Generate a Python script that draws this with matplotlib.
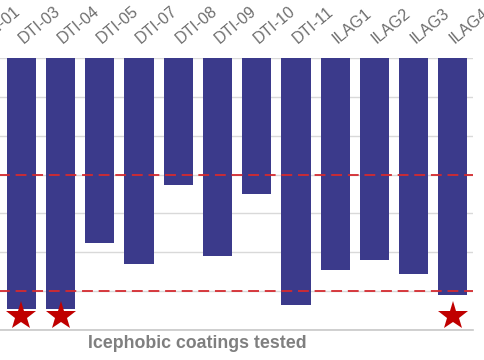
import matplotlib
matplotlib.use('Agg')
import matplotlib.pyplot as plt
from matplotlib.transforms import ScaledTranslation

coatings = ['DTI-01', 'DTI-03', 'DTI-04', 'DTI-05', 'DTI-07', 'DTI-08', 'DTI-09',
            'DTI-10', 'DTI-11', 'ILAG1', 'ILAG2', 'ILAG3', 'ILAG4']
values = [-45.0, -64.5, -64.5, -47.7, -53.0, -32.7, -50.9,
          -35.0, -63.6, -54.6, -52.0, -55.6, -61.0]
starred = ['DTI-03', 'DTI-04', 'ILAG4']
star_level = -66.3
thresholds = [-30, -60]

BAR_COLOR = '#3b3a8b'
RED = '#d42a2f'
STAR_RED = '#c00000'
GREY_TEXT = '#6e6e6e'

plt.rcParams['font.family'] = ['Liberation Sans', 'DejaVu Sans']

fig = plt.figure(figsize=(4.85, 3.6), dpi=100)
# the reference is cropped: the axes reach past the left edge of the picture
ax = fig.add_axes([-37.6 / 485, 30 / 360, 510.2 / 485, 272 / 360])

x = list(range(len(coatings)))
ax.bar(x, values, width=0.74, color=BAR_COLOR, zorder=2)

for level in thresholds:
    ax.axhline(level, color=RED, lw=1.3, dashes=(6, 3.2), zorder=3)

star_x = [coatings.index(c) for c in starred]
ax.plot(star_x, [star_level] * len(star_x), linestyle='none', marker='*',
        markersize=22, color=STAR_RED, markeredgewidth=0, zorder=4)

ax.set_xlim(-0.5, len(coatings) - 0.5)
ax.set_ylim(-70, 0)
ax.set_yticks(range(-70, 1, 10))
ax.yaxis.grid(True, color='#d9d9d9', lw=1, zorder=0)
ax.set_axisbelow(True)
ax.tick_params(axis='y', left=False, labelleft=False)

ax.xaxis.tick_top()
ax.set_xticks(x)
ax.set_xticklabels(coatings, rotation=40, ha='left', va='baseline',
                   rotation_mode='anchor', fontsize=11.5, color=GREY_TEXT)
ax.tick_params(axis='x', top=False, length=0, pad=0)
shift = ScaledTranslation(2 / 100, 14 / 100, fig.dpi_scale_trans)
for lbl in ax.get_xticklabels():
    lbl.set_transform(lbl.get_transform() + shift)

for side in ['top', 'left', 'right']:
    ax.spines[side].set_visible(False)
ax.spines['bottom'].set_color('#c8c8c8')
ax.spines['bottom'].set_linewidth(1.2)

fig.text(197 / 485, 1 - 343 / 360, 'Icephobic coatings tested', ha='center',
         va='center', fontsize=12.8, fontweight='bold', color='#7f7f7f')

fig.savefig('out.png', dpi=100)
